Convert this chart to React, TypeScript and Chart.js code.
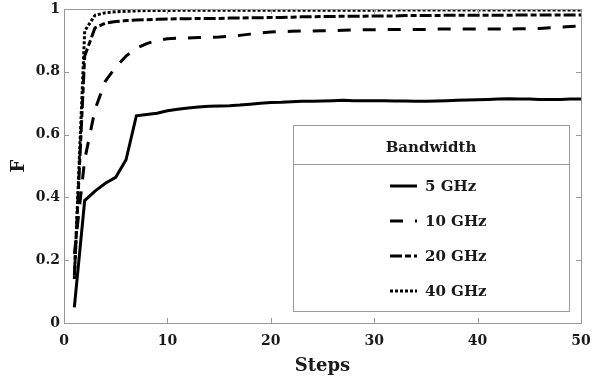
import React, { useEffect, useRef } from "react";
import { Chart, registerables } from "chart.js";

Chart.register(...registerables);

const steps = [1,2,3,4,5,6,7,8,9,10,11,12,13,14,15,16,17,18,19,20,21,22,23,24,25,26,27,28,29,30,31,32,33,34,35,36,37,38,39,40,41,42,43,44,45,46,47,48,49,50];

const bw5 = [0.05,0.39,0.42,0.445,0.464,0.52,0.66,0.664,0.668,0.676,0.681,0.685,0.688,0.69,0.691,0.692,0.694,0.697,0.7,0.702,0.703,0.705,0.706,0.706,0.707,0.708,0.709,0.708,0.708,0.708,0.708,0.707,0.707,0.706,0.706,0.707,0.708,0.709,0.71,0.711,0.712,0.713,0.714,0.713,0.713,0.712,0.712,0.712,0.713,0.713];
const bw10 = [0.22,0.52,0.68,0.77,0.815,0.85,0.875,0.89,0.9,0.905,0.907,0.908,0.909,0.91,0.911,0.913,0.916,0.92,0.924,0.927,0.928,0.929,0.93,0.93,0.931,0.931,0.932,0.933,0.934,0.934,0.935,0.935,0.935,0.935,0.935,0.936,0.936,0.936,0.936,0.936,0.936,0.936,0.936,0.937,0.937,0.938,0.94,0.942,0.944,0.946];
const bw20 = [0.15,0.85,0.94,0.955,0.96,0.963,0.965,0.966,0.967,0.968,0.969,0.969,0.97,0.97,0.97,0.971,0.971,0.972,0.972,0.973,0.973,0.974,0.975,0.975,0.976,0.976,0.977,0.977,0.977,0.978,0.978,0.978,0.979,0.979,0.979,0.979,0.98,0.98,0.98,0.98,0.98,0.98,0.98,0.981,0.981,0.981,0.981,0.981,0.981,0.981];
const bw40 = [0.14,0.93,0.98,0.988,0.991,0.993,0.994,0.995,0.995,0.995,0.996,0.996,0.996,0.996,0.996,0.996,0.996,0.996,0.996,0.996,0.996,0.996,0.996,0.996,0.996,0.996,0.996,0.996,0.996,0.996,0.997,0.997,0.997,0.997,0.997,0.997,0.997,0.997,0.997,0.997,0.997,0.997,0.997,0.997,0.997,0.997,0.997,0.997,0.997,0.997];

const seriesLabels = ["5 GHz", "10 GHz", "20 GHz", "40 GHz"];
const seriesValues = [bw5, bw10, bw20, bw40];
const seriesDashes = [[], [13, 12], [12, 3, 6, 3], [3, 2]];
const legendTitle = "Bandwidth";
const xTitle = "Steps";
const yTitle = "F";

const FONT = "'DejaVu Serif', serif";
const FRAME = "#9a9a9a";

const framePlugin = {
  id: "frameAndLegend",
  afterDatasetsDraw(chart: any) {
    const ctx = chart.ctx;
    const { left, right, top, bottom } = chart.chartArea;
    ctx.save();
    ctx.strokeStyle = FRAME;
    ctx.lineWidth = 1;
    ctx.strokeRect(Math.round(left) + 0.5, Math.round(top) + 0.5, Math.round(right - left), Math.round(bottom - top));
    const xs = chart.scales.x;
    const ys = chart.scales.y;
    const tl = 5;
    ctx.beginPath();
    xs.ticks.forEach((t: any) => {
      const px = Math.round(xs.getPixelForValue(t.value)) + 0.5;
      ctx.moveTo(px, bottom); ctx.lineTo(px, bottom - tl);
      ctx.moveTo(px, top); ctx.lineTo(px, top + tl);
    });
    ys.ticks.forEach((t: any) => {
      const py = Math.round(ys.getPixelForValue(t.value)) + 0.5;
      ctx.moveTo(left, py); ctx.lineTo(left + tl, py);
      ctx.moveTo(right, py); ctx.lineTo(right - tl, py);
    });
    ctx.stroke();

    // legend box
    const bx = 293, by = 125, bw = 276, bh = 186;
    ctx.fillStyle = "#ffffff";
    ctx.fillRect(bx, by, bw, bh);
    ctx.strokeStyle = FRAME;
    ctx.strokeRect(bx + 0.5, by + 0.5, bw, bh);
    ctx.beginPath();
    ctx.moveTo(bx, 164.5); ctx.lineTo(bx + bw, 164.5);
    ctx.stroke();
    ctx.fillStyle = "#1a1a1a";
    ctx.font = `bold 15px ${FONT}`;
    ctx.textAlign = "center";
    ctx.textBaseline = "middle";
    ctx.fillText(legendTitle, bx + bw / 2, 148);
    const rowY = [186, 221, 256, 291];
    seriesLabels.forEach((lab, i) => {
      ctx.strokeStyle = "#000";
      ctx.lineWidth = 3;
      ctx.setLineDash(seriesDashes[i]);
      ctx.beginPath();
      ctx.moveTo(390, rowY[i]); ctx.lineTo(417, rowY[i]);
      ctx.stroke();
      ctx.setLineDash([]);
      ctx.textAlign = "left";
      ctx.fillText(lab, 425, rowY[i] + 1);
    });
    ctx.restore();
  },
};

export default function App() {
  const ref = useRef<HTMLCanvasElement | null>(null);
  useEffect(() => {
    if (!ref.current) return;
    const chart = new Chart(ref.current, {
      type: "line",
      data: {
        datasets: seriesValues.map((vals, i) => ({
          label: seriesLabels[i],
          data: steps.map((s, j) => ({ x: s, y: vals[j] })),
          borderColor: "#000",
          borderWidth: 3,
          borderDash: seriesDashes[i],
          pointRadius: 0,
          fill: false,
          tension: 0,
        })),
      },
      options: {
        animation: false,
        responsive: false,
        devicePixelRatio: 1,
        layout: { padding: { top: 9, right: 11, left: 0, bottom: 0 } },
        plugins: { legend: { display: false }, tooltip: { enabled: false } },
        scales: {
          x: {
            type: "linear",
            min: 0,
            max: 50,
            afterFit: (s: any) => { s.height = 58; s.paddingLeft = 0; s.paddingRight = 0; },
            grid: { display: false, drawTicks: false },
            border: { display: false },
            ticks: { stepSize: 10, color: "#1a1a1a", padding: 10, font: { family: FONT, size: 14, weight: "bold" }, maxRotation: 0 },
            title: { display: true, text: xTitle, color: "#1a1a1a", font: { family: FONT, size: 18, weight: "bold" }, padding: { top: 0, bottom: 4 } },
          },
          y: {
            min: 0,
            max: 1,
            afterFit: (s: any) => { s.width = 64; s.paddingTop = 0; s.paddingBottom = 0; },
            grid: { display: false, drawTicks: false },
            border: { display: false },
            ticks: {
              stepSize: 0.2,
              color: "#1a1a1a",
              padding: 4,
              font: { family: FONT, size: 14, weight: "bold" },
              callback: (v: any) => String(Math.round(Number(v) * 10) / 10),
            },
            title: { display: true, text: yTitle, color: "#1a1a1a", font: { family: FONT, size: 18, weight: "bold" }, padding: { top: 9, bottom: 0 } },
          },
        },
      },
      plugins: [framePlugin],
    } as any);
    return () => chart.destroy();
  }, []);
  return (
    <div style={{ position: "fixed", left: 0, top: 0, width: 592, height: 381, background: "#fff" }}>
      <canvas ref={ref} width={592} height={381} style={{ display: "block" }} />
    </div>
  );
}
